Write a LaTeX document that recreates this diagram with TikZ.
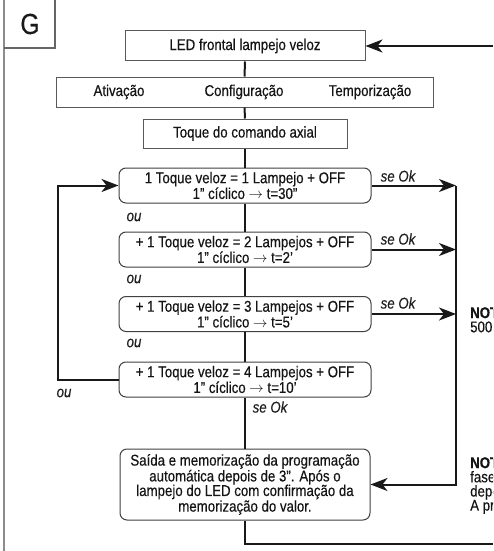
\documentclass[tikz,border=0pt]{standalone}
\usepackage{fontspec}
\setmainfont{Liberation Sans}[FakeStretch=0.85, FakeBold=0.35]
\usetikzlibrary{arrows.meta}
\tikzset{
  px/.style={x=1pt,y=-1pt},
  txt/.style={font=\fontsize{15.6}{14.6}\selectfont, text=black!92, inner sep=0pt, align=center},
  rectbox/.style={txt, draw=black!65, line width=1pt, fill=white},
  roundbox/.style={txt, draw=black!75, line width=1pt, rounded corners=7pt, fill=white},
  flow/.style={draw=black!90, line width=2pt},
  tip/.style={-{Stealth[length=17pt,width=13pt,inset=5pt]}},
  note/.style={font=\fontsize{15.6}{14.6}\selectfont\itshape, text=black!88, inner sep=0pt},
  side/.style={font=\fontsize{15.6}{14.2}\selectfont, text=black!92, inner sep=0pt, anchor=north west, align=left}
}
\begin{document}
\begin{tikzpicture}[px]
\useasboundingbox (0,0) rectangle (493,551);
\clip (0,0) rectangle (493,551);

% page frame and section tab
\draw[black!45, line width=2pt] (3.7,0) -- (3.7,551);
\draw[black!60, line width=1.2pt] (3.7,48) -- (55,48) -- (55,0);
\node[font=\fontsize{29}{29}\selectfont, text=black!90] (tab) at (30,24) {G};

% boxes
\node[rectbox, minimum width=240pt, minimum height=30pt] (led) at (245,46) {LED frontal lampejo veloz};
\node[rectbox, minimum width=377pt, minimum height=30pt] (bar) at (244.5,92) {};
\node[txt] (ativ) at (119,92) {Ativação};
\node[txt] (conf) at (244,92) {Configuração};
\node[txt] (temp) at (370,92) {Temporização};
\node[rectbox, minimum width=204pt, minimum height=29pt] (axial) at (245,133.5) {Toque do comando axial};

\node[roundbox, minimum width=252pt, minimum height=35pt] (b1) at (245,185.5)
  {1 Toque veloz = 1 Lampejo + OFF\\1” cíclico $\rightarrow$ t=30”};
\node[roundbox, minimum width=252pt, minimum height=35pt] (b2) at (245,249.5)
  {+ 1 Toque veloz = 2 Lampejos + OFF\\1” cíclico $\rightarrow$ t=2’};
\node[roundbox, minimum width=252pt, minimum height=35pt] (b3) at (245,314)
  {+ 1 Toque veloz = 3 Lampejos + OFF\\1” cíclico $\rightarrow$ t=5’};
\node[roundbox, minimum width=252pt, minimum height=35pt] (b4) at (245,379.5)
  {+ 1 Toque veloz = 4 Lampejos + OFF\\1” cíclico $\rightarrow$ t=10’};
\node[roundbox, minimum width=250pt, minimum height=71pt] (exit) at (245,484.5)
  {Saída e memorização da programação\\automática depois de 3”. Após o\\lampejo do LED com confirmação da\\memorização do valor.};

% helper points
\coordinate (inR) at (493,46);
\coordinate (loopB) at (58,379.5);
\coordinate (railT) at (456,185.5);
\coordinate (railB) at (456,484.5);
\coordinate (baseL) at (245,544);
\coordinate (baseR) at (493,544);

% main trunk
\draw[flow] (led.south) -- (bar.north);
\draw[flow] (bar.south) -- (axial.north);
\draw[flow] (axial.south) -- (b1.north);
\draw[flow] (b1.south) -- (b2.north);
\draw[flow] (b2.south) -- (b3.north);
\draw[flow] (b3.south) -- (b4.north);
\draw[flow] (b4.south) -- (exit.north);
\draw[flow] (exit.south) -- (baseL) -- (baseR);

% return into the first box
\draw[flow, tip] (inR) -- (led.east);
\draw[flow, tip] (b4.west) -- (loopB) |- (b1.west);

% confirmation rail
\draw[flow, tip] (b1.east) -- (railT);
\draw[flow, tip] (b2.east) -- (b2.east -| railT);
\draw[flow, tip] (b3.east) -- (b3.east -| railT);
\draw[flow, tip] (railT) -- (railB) -- (exit.east);

% labels
\node[note] (ok1) at (398,176) {se Ok};
\node[note] (ok2) at (398,239) {se Ok};
\node[note] (ok3) at (398,303) {se Ok};
\node[note] (ok4) at (270,407) {se Ok};
\node[note] (or1) at (134,217) {ou};
\node[note] (or2) at (134,279) {ou};
\node[note] (or3) at (134,343) {ou};
\node[note] (or4) at (64,393) {ou};

% notes at the right margin
\node[side] (n1) at (470,307) {\bfseries NOT\\500};
\node[side] (n2) at (470,457) {\bfseries NOT\\fase\\depe\\A pr};
\end{tikzpicture}
\end{document}
